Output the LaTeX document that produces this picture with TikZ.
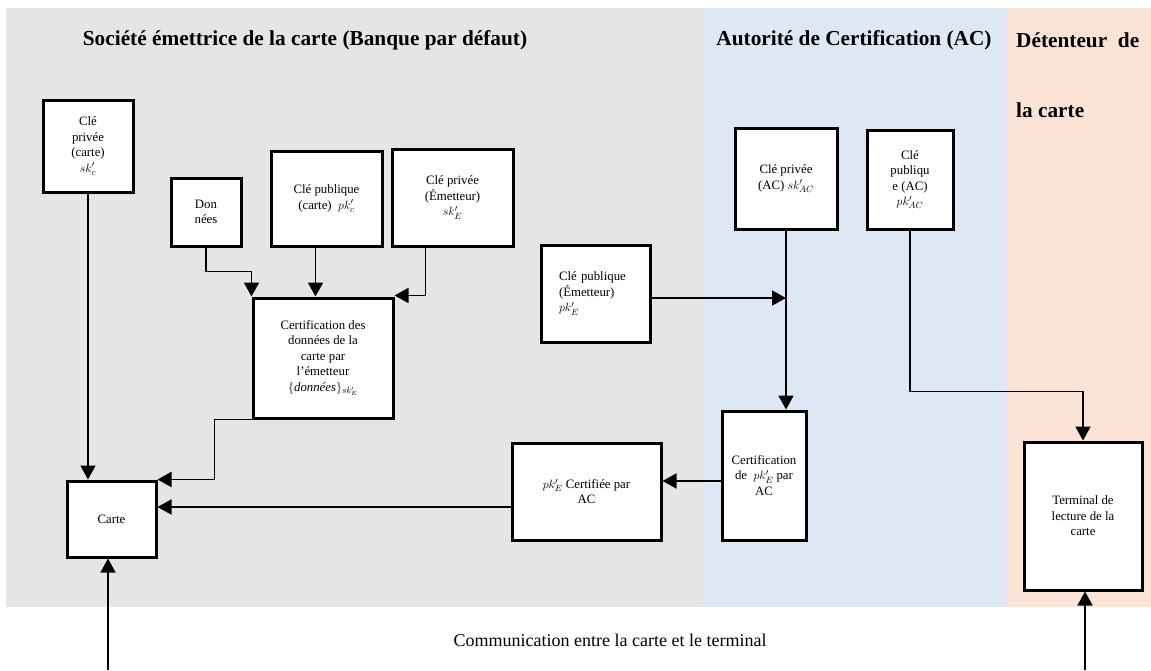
\documentclass[tikz,border=0pt]{standalone}
\usepackage{fontspec}
\setmainfont{Liberation Serif}
\usetikzlibrary{arrows.meta}
\definecolor{bandgrey}{HTML}{E5E5E5}
\definecolor{bandblue}{HTML}{DEE8F4}
\definecolor{bandpeach}{HTML}{FBE3D6}

\begin{document}
\begin{tikzpicture}[x=1pt,y=-1pt,
  box/.style={draw=black, line width=3pt, fill=white, align=center,
    font=\fontsize{12.8}{15.5}\selectfont, inner sep=2pt},
  arr/.style={line width=1.8pt, -{Triangle[length=14pt,width=15pt]}},
  link/.style={line width=1.4pt, -{Triangle[length=14pt,width=15pt]}},
  head/.style={font=\fontsize{21.3}{25}\selectfont\bfseries, inner sep=0pt}]

% canvas and the three swim lanes
\useasboundingbox (0,0) rectangle (1151,670);
\fill[white] (0,0) rectangle (1151,670);
\fill[bandgrey]  (6,8)    rectangle (702,607);
\fill[bandblue]  (702,8)  rectangle (1007,607);
\fill[bandpeach] (1007,8) rectangle (1151,607);

% lane titles
\node[head] (tEm) at (305,40) {Société émettrice de la carte (Banque par défaut)};
\node[head] (tAC) at (854,40) {Autorité de Certification (AC)};
\node[head, anchor=west] (tDet1) at (1016,40) {Détenteur~~de};
\node[head, anchor=west] (tDet2) at (1016,110) {la carte};

% issuer lane
\node[box, minimum width=90pt,  minimum height=92pt]  (skc)   at (88,146)    {Clé\\privée\\(carte)\\$sk'_c$};
\node[box, minimum width=70pt,  minimum height=68pt]  (don)   at (206,212)   {Don\\nées};
\node[box, minimum width=111pt, minimum height=95pt]  (pkc)   at (326.5,198.5) {Clé publique\\(carte)~~$pk'_c$};
\node[box, minimum width=121pt, minimum height=97pt]  (skE)   at (452.5,197.5) {Clé privée\\(Émetteur)\\$sk'_E$};
\node[box, minimum width=140pt, minimum height=120pt] (cert)  at (323,358)   {Certification des\\données de la\\carte par\\l’émetteur\\$\{\mbox{\itshape données}\}_{sk'_E}$};
\node[box, minimum width=89pt,  minimum height=76pt]  (carte) at (111.5,519) {Carte};
\node[box, minimum width=109pt, minimum height=97pt, text width=73pt, align=left] (pkE) at (595.5,293.5) {Clé publique\\(Émetteur)\\$pk'_E$};
\node[box, minimum width=149pt, minimum height=97pt]  (pkcert) at (586.5,491.5) {$pk'_E$ Certifiée par\\AC};

% certification authority lane
\node[box, minimum width=102pt, minimum height=101pt] (skAC)   at (786,178.5) {Clé privée\\(AC) $sk'_{AC}$};
\node[box, minimum width=86pt,  minimum height=99pt]  (pkAC)   at (910,179.5) {Clé\\publiqu\\e (AC)\\$pk'_{AC}$};
\node[box, minimum width=84pt,  minimum height=129pt] (certAC) at (764,475.5) {Certification\\de~~$pk'_E$ par\\AC};

% card holder lane
\node[box, minimum width=118pt, minimum height=148pt] (term) at (1083,516) {Terminal de\\lecture de la\\carte};

% connectors
\draw[arr] (skc.south) -- (skc.south |- carte.north);
\draw[arr] (don.south) |- ([yshift=25pt]cert.north west) -- (cert.north west);
\draw[arr] ([xshift=-11pt]pkc.south) -- ([xshift=-11pt]pkc.south |- cert.north);
\draw[arr] ([xshift=-27pt]skE.south) |- ([yshift=1pt]cert.north east);
\draw[arr] (cert.south west) -- ++(-37,0) |- (carte.north east);
\draw[arr] ([yshift=-15.5pt]pkcert.west) -- ([yshift=-15.5pt]pkcert.west -| carte.east);
\draw[arr] ([yshift=-5.5pt]certAC.west) -- ([yshift=-5.5pt]certAC.west -| pkcert.east);
\draw[arr] (skAC.south) -- (skAC.south |- certAC.north);
\draw[arr] ([yshift=-4.5pt]pkE.east) -- ([yshift=-4.5pt]pkE.east -| skAC.south);
\draw[arr] (pkAC.south) -- ++(0,161) -| (term.north);

% card / terminal communication
\node[font=\fontsize{18}{22}\selectfont] (comm) at (610,640) {Communication entre la carte et le terminal};
\coordinate (lowC) at (108,670);
\coordinate (lowT) at (1085,670);
\draw[link] (lowC) -- (lowC |- carte.south);
\draw[link] (lowT) -- (lowT |- term.south);
\end{tikzpicture}
\end{document}
